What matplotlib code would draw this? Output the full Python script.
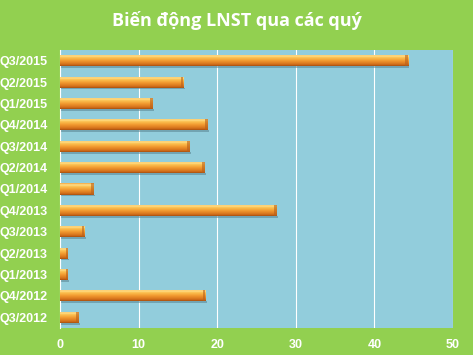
import matplotlib
matplotlib.use("Agg")
import matplotlib.pyplot as plt
import numpy as np
from matplotlib.colors import LinearSegmentedColormap

categories = ["Q3/2012", "Q4/2012", "Q1/2013", "Q2/2013", "Q3/2013", "Q4/2013",
              "Q1/2014", "Q2/2014", "Q3/2014", "Q4/2014", "Q1/2015", "Q2/2015", "Q3/2015"]
values = [2.4, 18.5, 1.0, 1.0, 3.1, 27.6, 4.3, 18.4, 16.5, 18.8, 11.8, 15.7, 44.3]
xticks = [0, 10, 20, 30, 40, 50]
title = "Biến động LNST qua các quý"

W, H = 473, 355
fig = plt.figure(figsize=(W / 100, H / 100), dpi=100)
fig.patch.set_facecolor("#92D050")
ax = fig.add_axes([60 / W, (H - 328) / H, (453 - 60) / W, (328 - 50) / H])
ax.set_facecolor("#92CDDC")

y = np.arange(len(categories))
bh = 0.52
bars = ax.barh(y, values, height=bh, color="#F39A2E", edgecolor="none", zorder=3)

cmap = LinearSegmentedColormap.from_list(
    "bar3d", [(0.0, "#A8500E"), (0.14, "#D4701A"), (0.45, "#F29A30"),
              (0.7, "#FBC050"), (0.85, "#FFE08A"), (1.0, "#F5A540")])
grad = np.linspace(0, 1, 64).reshape(-1, 1)
for b in bars:
    x0, y0, w, h = b.get_x(), b.get_y(), b.get_width(), b.get_height()
    im = ax.imshow(grad, cmap=cmap, aspect="auto", origin="lower",
                   extent=[x0, x0 + w, y0, y0 + h], zorder=4)
    im.set_clip_path(b)
    cap = min(0.35, w * 0.25)
    ax.barh(y0 + h / 2, cap, left=x0 + w - cap, height=h, color="#B8601A",
            edgecolor="none", zorder=5, alpha=0.6)
    ax.barh(y0 - 0.04, w, left=x0 + 0.15, height=0.08, color="#5E8A96",
            edgecolor="none", zorder=2, alpha=0.6)

ax.set_xlim(0, 50)
ax.set_ylim(-0.5, len(categories) - 0.5)
ax.set_xticks(xticks)
ax.set_xticklabels([str(t) for t in xticks])
ax.set_yticks(y)
ax.set_yticklabels(categories)
ax.xaxis.grid(True, color="white", linewidth=0.8, zorder=1)
ax.set_axisbelow(True)
for s in ["top", "right", "bottom"]:
    ax.spines[s].set_visible(False)
ax.spines["left"].set_color("white")
ax.spines["left"].set_linewidth(0.8)
ax.tick_params(axis="both", length=0, colors="white", labelsize=9)
for lab in ax.get_xticklabels() + ax.get_yticklabels():
    lab.set_fontweight("bold")
    lab.set_fontfamily("Liberation Sans")
ax.tick_params(axis="y", pad=9)
ax.tick_params(axis="x", pad=8)

fig.text(0.5, (H - 20) / H, title, ha="center", va="center", color="white",
         fontsize=13, fontweight="bold", family="Open Sans")

fig.savefig("out.png", dpi=100, facecolor=fig.get_facecolor())
